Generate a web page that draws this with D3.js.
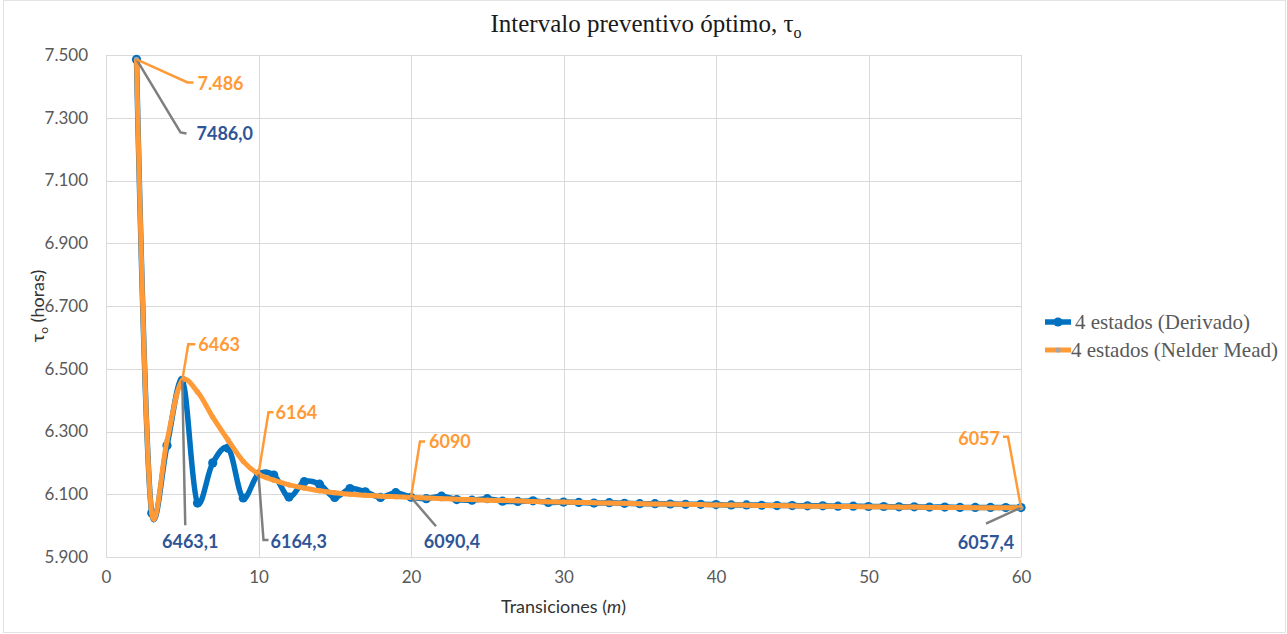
<!DOCTYPE html>
<html>
<head>
<meta charset="utf-8">
<script src="https://cdn.jsdelivr.net/npm/d3@7"></script>
<style>
  body { margin: 0; background: white; }
  svg { display: block; }
</style>
</head>
<body>
<div id="chart"></div>
<script>
// transiciones m = 2..60
var transiciones = [2,3,4,5,6,7,8,9,10,11,12,13,14,15,16,17,18,19,20,21,22,23,24,25,26,27,28,29,30,
    31,32,33,34,35,36,37,38,39,40,41,42,43,44,45,46,47,48,49,50,51,52,53,54,55,56,57,58,59,60];

var derivado = [7486.0,6040,6255,6463.1,6072,6200,6247,6088,6164.3,6161,6091,6140,6132,6090,6118,6108,6090,6105,6090.4,
    6086,6094,6083,6081,6086,6078,6077,6079,6074,6075,6074,6072,6073,6071,6070,6070,6069,6068,6068,6067,
    6066,6066,6065,6064,6064,6063,6063,6062,6062,6061,6061,6060,6060,6059,6059,6058,6058,6058,6057.5,6057.4];

var nelder = [7486,6040,6270,6463,6426,6346,6273,6205,6164,6145,6130,6120,6111,6105,6100,6097,6094,6092,6090,
    6088,6086,6084,6083,6081,6080,6079,6077,6076,6075,6074,6073,6072,6071,6070,6069,6069,6068,6067,6066,
    6066,6065,6064,6064,6063,6062,6062,6061,6061,6060,6060,6059,6059,6058,6058,6058,6057,6057,6057,6057];

var yTicks = [5900,6100,6300,6500,6700,6900,7100,7300,7500];
var xTicks = [0,10,20,30,40,50,60];
var seriesNames = ["4 estados (Derivado)", "4 estados (Nelder Mead)"];

// etiquetas de datos: [m, texto]
var etiquetasNM = [[2,"7.486"],[5,"6463"],[10,"6164"],[20,"6090"],[60,"6057"]];
var etiquetasDer = [[2,"7486,0"],[5,"6463,1"],[10,"6164,3"],[20,"6090,4"],[60,"6057,4"]];

var W = 1287, H = 634;
var margin = { top: 55, right: 266, bottom: 77, left: 106 };
var w = W - margin.left - margin.right,
    h = H - margin.top - margin.bottom;

var blue = "#0070C0", orange = "#FF9A36", grey = "#7F7F7F", labelBlue = "#2F5597", txt = "#595959";

var loc = d3.formatLocale({ decimal: ",", thousands: ".", grouping: [3], currency: ["", ""] });
var fmt = loc.format(",d");

var svg = d3.select("#chart").append("svg")
    .attr("width", W)
    .attr("height", H);

svg.append("rect")
    .attr("x", 3.5).attr("y", 0.5)
    .attr("width", W - 5).attr("height", H - 2)
    .attr("fill", "white")
    .attr("stroke", "#E3E3E3");

var g = svg.append("g")
    .attr("transform", "translate(" + margin.left + "," + margin.top + ")");

var xS = d3.scaleLinear().domain([0, 60]).range([0, w]);
var yS = d3.scaleLinear().domain([5900, 7500]).range([h, 0]);

// gridlines
g.append("g").selectAll("line")
    .data(yTicks)
    .enter().append("line")
    .attr("x1", 0).attr("x2", w)
    .attr("y1", d => Math.round(yS(d)) + 0.5)
    .attr("y2", d => Math.round(yS(d)) + 0.5)
    .attr("stroke", "#D9D9D9");

g.append("g").selectAll("line")
    .data(xTicks)
    .enter().append("line")
    .attr("x1", d => Math.round(xS(d)) + 0.5)
    .attr("x2", d => Math.round(xS(d)) + 0.5)
    .attr("y1", 0).attr("y2", h)
    .attr("stroke", "#D9D9D9");

// axes (labels only)
var yAxis = g.append("g")
    .call(d3.axisLeft(yS).tickValues(yTicks).tickFormat(fmt).tickSize(0).tickPadding(18));
var xAxis = g.append("g")
    .attr("transform", "translate(0," + h + ")")
    .call(d3.axisBottom(xS).tickValues(xTicks).tickSize(0).tickPadding(14));
[yAxis, xAxis].forEach(function(a) {
    a.select(".domain").remove();
    a.selectAll("text")
        .attr("fill", txt)
        .style("font-family", "Lato, 'Open Sans', sans-serif")
        .style("font-size", "17px");
});

// lines (Excel-like smoothing)
var line = d3.line()
    .x((d, i) => xS(transiciones[i]))
    .y(d => yS(d))
    .curve(d3.curveCatmullRom.alpha(0.2));

g.append("path")
    .datum(derivado)
    .attr("d", line)
    .attr("fill", "none")
    .attr("stroke", blue)
    .attr("stroke-width", 5.5)
    .attr("stroke-linejoin", "round");

g.append("g").selectAll("circle")
    .data(derivado)
    .enter().append("circle")
    .attr("cx", (d, i) => xS(transiciones[i]))
    .attr("cy", d => yS(d))
    .attr("r", 4.6)
    .attr("fill", blue);

g.append("g").selectAll("circle")
    .data(nelder)
    .enter().append("circle")
    .attr("cx", (d, i) => xS(transiciones[i]))
    .attr("cy", d => yS(d))
    .attr("r", 2.6)
    .attr("fill", "#A5A5A5");

g.append("path")
    .datum(nelder)
    .attr("d", line)
    .attr("fill", "none")
    .attr("stroke", orange)
    .attr("stroke-width", 5)
    .attr("stroke-linejoin", "round");

// leader lines + labels (offsets in px from the point)
var leadNM = {
    2:  { pts: [[51, 23], [57, 23]], tx: 61, ty: 24, anchor: "start" },
    5:  { pts: [[6, -36], [13, -36]], tx: 16, ty: -36, anchor: "start" },
    10: { pts: [[10, -62], [15, -62]], tx: 17, ty: -62, anchor: "start" },
    20: { pts: [[9, -56], [14, -56]], tx: 18, ty: -56, anchor: "start" },
    60: { pts: [[-13, -71], [-18, -71]], tx: -21, ty: -70, anchor: "end" }
};
var leadDer = {
    2:  { pts: [[44, 73], [50, 74]], tx: 60, ty: 74, anchor: "start" },
    5:  { pts: [[3, 145]], tx: 8, ty: 161, anchor: "middle" },
    10: { pts: [[5, 66], [10, 66]], tx: 12, ty: 67, anchor: "start" },
    20: { pts: [[25, 29]], tx: 41, ty: 44, anchor: "middle" },
    60: { pts: [[-35, 16]], tx: -35, ty: 34, anchor: "middle" }
};

function drawLabels(lab, series, lead, stroke, color) {
    lab.forEach(function(e) {
        var m = e[0], i = transiciones.indexOf(m);
        var px = xS(m), py = yS(series[i]);
        var L = lead[m];
        var pts = [[px, py]].concat(L.pts.map(p => [px + p[0], py + p[1]]));
        g.append("path")
            .attr("d", d3.line()(pts))
            .attr("fill", "none")
            .attr("stroke", stroke)
            .attr("stroke-width", 2.5);
        g.append("text")
            .attr("x", px + L.tx)
            .attr("y", py + L.ty)
            .attr("text-anchor", L.anchor)
            .attr("dominant-baseline", "central")
            .attr("fill", color)
            .style("font-family", "Lato, 'Open Sans', sans-serif")
            .style("font-weight", "bold")
            .style("font-size", "18px")
            .text(e[1]);
    });
}
drawLabels(etiquetasDer, derivado, leadDer, grey, labelBlue);
drawLabels(etiquetasNM, nelder, leadNM, orange, orange);

// title
var title = svg.append("text")
    .attr("x", 646).attr("y", 32)
    .attr("text-anchor", "middle")
    .attr("fill", "#1a1a1a")
    .style("font-family", "'Liberation Serif', 'Times New Roman', serif")
    .style("font-size", "25px");
title.append("tspan").text("Intervalo preventivo óptimo, τ");
title.append("tspan").attr("dy", 6).style("font-size", "16px").text("o");

// axis titles
var yt = svg.append("text")
    .attr("transform", "translate(44," + (margin.top + h / 2) + ") rotate(-90)")
    .attr("text-anchor", "middle")
    .attr("fill", "#333")
    .style("font-family", "Lato, 'Open Sans', sans-serif")
    .style("font-size", "18px");
yt.append("tspan").text("τ");
yt.append("tspan").attr("dy", 4).style("font-size", "12px").text("o");
yt.append("tspan").attr("dy", -4).text(" (horas)");

var xt = svg.append("text")
    .attr("x", margin.left + w / 2).attr("y", 613)
    .attr("text-anchor", "middle")
    .attr("fill", "#333")
    .style("font-family", "Lato, 'Open Sans', sans-serif")
    .style("font-size", "18px");
xt.append("tspan").text("Transiciones (");
xt.append("tspan").style("font-style", "italic").text("m");
xt.append("tspan").text(")");

// legend
var leg = svg.append("g").attr("transform", "translate(1045,0)");
var legY = [322, 350];
var legColors = [blue, orange];
seriesNames.forEach(function(name, i) {
    leg.append("line")
        .attr("x1", 0).attr("x2", 26)
        .attr("y1", legY[i]).attr("y2", legY[i])
        .attr("stroke", legColors[i])
        .attr("stroke-width", i === 0 ? 5.5 : 5);
    leg.append("circle")
        .attr("cx", 13).attr("cy", legY[i])
        .attr("r", i === 0 ? 4.6 : 2.6)
        .attr("fill", i === 0 ? blue : "#A5A5A5");
    leg.append("text")
        .attr("x", i === 0 ? 30 : 26).attr("y", legY[i])
        .attr("dominant-baseline", "central")
        .attr("fill", txt)
        .style("font-family", "'Liberation Serif', 'Times New Roman', serif")
        .style("font-size", "21px")
        .text(name);
});
</script>
</body>
</html>
